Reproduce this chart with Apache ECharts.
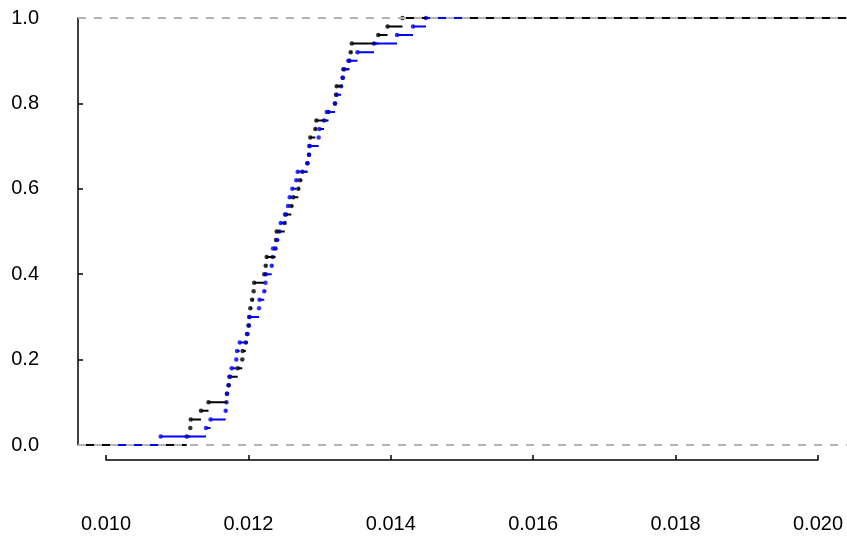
<!DOCTYPE html>
<html>
<head>
<meta charset="utf-8">
<script src="https://cdn.jsdelivr.net/npm/echarts@6/dist/echarts.min.js"></script>
<style>html,body{margin:0;padding:0;background:#fff;}#c{width:847px;height:542px;}</style>
</head>
<body>
<div id="c"></div>
<script>
// Sorted sample values (ECDF knots)
const xBlack = [0.011133, 0.011184, 0.011191, 0.011334, 0.011440, 0.011699, 0.011721, 0.011742, 0.011850, 0.011914,
  0.011919, 0.011964, 0.011987, 0.012001, 0.012015, 0.012027, 0.012051, 0.012074, 0.012081, 0.012223,
  0.012243, 0.012257, 0.012381, 0.012388, 0.012397, 0.012510, 0.012528, 0.012603, 0.012631, 0.012701,
  0.012725, 0.012757, 0.012830, 0.012851, 0.012862, 0.012869, 0.012940, 0.012954, 0.013125, 0.013216,
  0.013230, 0.013240, 0.013324, 0.013333, 0.013420, 0.013437, 0.013452, 0.013824, 0.013954, 0.014164];
const xBlue = [0.010768, 0.011404, 0.011468, 0.011681, 0.011692, 0.011699, 0.011723, 0.011732, 0.011765, 0.011830,
  0.011840, 0.011878, 0.011980, 0.012008, 0.012013, 0.012149, 0.012156, 0.012223, 0.012240, 0.012246,
  0.012327, 0.012341, 0.012346, 0.012402, 0.012434, 0.012454, 0.012514, 0.012556, 0.012580, 0.012617,
  0.012673, 0.012692, 0.012827, 0.012851, 0.012855, 0.012987, 0.012996, 0.013062, 0.013100, 0.013216,
  0.013240, 0.013301, 0.013324, 0.013347, 0.013403, 0.013532, 0.013764, 0.014087, 0.014312, 0.014494];
const xTickLabels = ['0.010', '0.012', '0.014', '0.016', '0.018', '0.020'];
const yTickLabels = ['0.0', '0.2', '0.4', '0.6', '0.8', '1.0'];

const plotXMin = 0.0096067, plotXMax = 0.0204073;
const blackExt = [plotXMin, plotXMax];
const blueExt = [0.010169, 0.015084];

function stepData(xs, left, right) {
  const n = xs.length;
  const d = [[left, 0], [xs[0], 0], [xs[0], '-']];
  for (let i = 0; i < n; i++) {
    const y = (i + 1) / n;
    const x2 = i < n - 1 ? xs[i + 1] : right;
    d.push([xs[i], y], [x2, y], [x2, '-']);
  }
  return d;
}
function dots(xs) { return xs.map((x, i) => [x, (i + 1) / xs.length]); }

const font = 'Liberation Sans, Arial, sans-serif';
const chart = echarts.init(document.getElementById('c'), null, {renderer: 'canvas'});
chart.setOption({
  animation: false,
  backgroundColor: '#fff',
  grid: [
    {left: 78, right: 0, top: 18, bottom: 97},
    {left: 106, right: 29, top: 459, bottom: 82}
  ],
  xAxis: [
    {gridIndex: 0, type: 'value', min: plotXMin, max: plotXMax, show: false},
    {gridIndex: 1, type: 'value', min: 0.010, max: 0.020, interval: 0.002, position: 'bottom',
      axisLine: {show: true, lineStyle: {color: '#000', width: 1.5}},
      axisTick: {show: true, inside: true, length: 5, lineStyle: {color: '#000', width: 1.5}},
      axisLabel: {margin: 54, fontSize: 20, color: '#000', fontFamily: font,
        formatter: v => xTickLabels[Math.round((v - 0.010) / 0.002)] || v.toFixed(3)},
      splitLine: {show: false}}
  ],
  yAxis: [
    {gridIndex: 0, type: 'value', min: 0, max: 1, interval: 0.2,
      axisLine: {show: true, lineStyle: {color: '#000', width: 1.5}},
      axisTick: {show: true, inside: true, length: 5, lineStyle: {color: '#000', width: 1.5}},
      axisLabel: {margin: 39, fontSize: 20, color: '#000', fontFamily: font,
        formatter: v => yTickLabels[Math.round(v / 0.2)] || v.toFixed(1)},
      splitLine: {show: false}},
    {gridIndex: 1, type: 'value', min: 0, max: 1, show: false}
  ],
  series: [
    {type: 'line', xAxisIndex: 0, yAxisIndex: 0, data: stepData(xBlack, blackExt[0], blackExt[1]),
      showSymbol: false, connectNulls: false, lineStyle: {color: '#000', width: 2}, silent: true},
    {type: 'scatter', xAxisIndex: 0, yAxisIndex: 0, data: dots(xBlack), symbolSize: 4.5,
      itemStyle: {color: '#000'}, silent: true},
    {type: 'line', xAxisIndex: 0, yAxisIndex: 0, data: stepData(xBlue, blueExt[0], blueExt[1]),
      showSymbol: false, connectNulls: false, lineStyle: {color: '#0000ff', width: 2}, silent: true},
    {type: 'scatter', xAxisIndex: 0, yAxisIndex: 0, data: dots(xBlue), symbolSize: 4.5,
      itemStyle: {color: '#0000ff'}, silent: true},
    {type: 'line', xAxisIndex: 0, yAxisIndex: 0, data: [[plotXMin, 0], [plotXMax, 0]],
      showSymbol: false, lineStyle: {color: '#b3b3b3', width: 2, type: [8, 8]}, silent: true},
    {type: 'line', xAxisIndex: 0, yAxisIndex: 0, data: [[plotXMin, 1], [plotXMax, 1]],
      showSymbol: false, lineStyle: {color: '#b3b3b3', width: 2, type: [8, 8]}, silent: true},
    {type: 'scatter', xAxisIndex: 1, yAxisIndex: 1, data: []}
  ]
});
</script>
</body>
</html>
